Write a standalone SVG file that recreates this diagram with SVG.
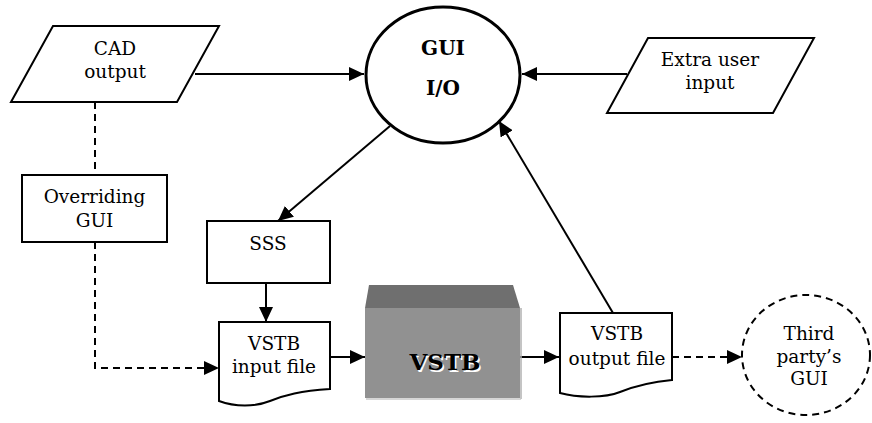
<svg xmlns="http://www.w3.org/2000/svg" width="872" height="423" viewBox="0 0 872 423">
<style>
.shape{fill:#fff;stroke:#000;stroke-width:2}
.t{font-family:"DejaVu Serif","Liberation Serif",serif;font-size:18.5px;fill:#000;text-anchor:middle}
.b{font-weight:bold}
.ln{fill:none;stroke:#000;stroke-width:2}
.dash{stroke-dasharray:7 5}
</style>
<defs>
<marker id="ah" markerUnits="userSpaceOnUse" markerWidth="16" markerHeight="14" refX="15" refY="7" orient="auto">
<path d="M0,0 L15,7 L0,14 Z" fill="#000"/>
</marker>
</defs>
<rect width="872" height="423" fill="#fff"/>
<g id="connectors">
<line class="ln" x1="195" y1="74" x2="364" y2="74" marker-end="url(#ah)"/>
<line class="ln" x1="627" y1="74" x2="522" y2="74" marker-end="url(#ah)"/>
<line class="ln" x1="390" y1="126" x2="278" y2="221" marker-end="url(#ah)"/>
<line class="ln" x1="613" y1="313" x2="499" y2="121" marker-end="url(#ah)"/>
<line class="ln" x1="266" y1="283" x2="266" y2="322" marker-end="url(#ah)"/>
<line class="ln" x1="330" y1="357" x2="365" y2="357" marker-end="url(#ah)"/>
<line class="ln" x1="520" y1="357" x2="559" y2="357" marker-end="url(#ah)"/>
<line class="ln dash" x1="672" y1="357" x2="742" y2="357" marker-end="url(#ah)"/>
<line class="ln dash" x1="95" y1="102" x2="95" y2="175"/>
<polyline class="ln dash" points="95,242 95,368 219,368" marker-end="url(#ah)"/>
</g>
<g id="cad">
<polygon class="shape" points="53,26 219,26 177,102 11,102"/>
<text class="t" x="115" y="55">CAD</text>
<text class="t" x="115" y="78">output</text>
</g>
<g id="gui">
<ellipse cx="443" cy="75" rx="77" ry="68" fill="#fff" stroke="#000" stroke-width="3"/>
<text class="t b" x="443" y="55" style="font-size:20px">GUI</text>
<text class="t b" x="443" y="95" style="font-size:20px">I/O</text>
</g>
<g id="extra">
<polygon class="shape" points="648,38 814,38 773,113 607,113"/>
<text class="t" x="710" y="66">Extra user</text>
<text class="t" x="710" y="89">input</text>
</g>
<g id="overriding">
<rect class="shape" x="22" y="175" width="145" height="67"/>
<text class="t" x="94.5" y="203">Overriding</text>
<text class="t" x="94.5" y="227">GUI</text>
</g>
<g id="sss">
<rect class="shape" x="207" y="221" width="123" height="62"/>
<text class="t" x="268" y="250">SSS</text>
</g>
<g id="input">
<path class="shape" d="M219,322 H330 V389 C300,391 285,395 270,401 C255,407 235,407 219,401 Z"/>
<text class="t" x="274" y="350">VSTB</text>
<text class="t" x="274" y="373">input file</text>
</g>
<g id="vstb">
<polygon points="369,285 513,285 520,308 365,308" fill="#6f6f6f"/>
<rect x="365" y="308" width="155" height="90" fill="#919191"/>
<line x1="521" y1="308" x2="521" y2="399" stroke="#b0b0b0" stroke-width="1.5"/>
<line x1="366" y1="399" x2="521" y2="399" stroke="#c8c8c8" stroke-width="1.5"/>
<text class="t b" x="446.5" y="371.5" style="font-size:23px;fill:#fff">VSTB</text>
<text class="t b" x="445" y="370" style="font-size:23px">VSTB</text>
</g>
<g id="output">
<path class="shape" d="M560,313 H672 V380 C650,382 635,386 620,392 C605,398 578,398 560,393 Z"/>
<text class="t" x="617" y="340">VSTB</text>
<text class="t" x="617" y="365">output file</text>
</g>
<g id="thirdparty">
<ellipse cx="806" cy="355" rx="64" ry="60" fill="#fff" stroke="#000" stroke-width="2" stroke-dasharray="7 5"/>
<text class="t" x="809" y="340">Third</text>
<text class="t" x="809" y="363">party’s</text>
<text class="t" x="809" y="385">GUI</text>
</g>
</svg>
